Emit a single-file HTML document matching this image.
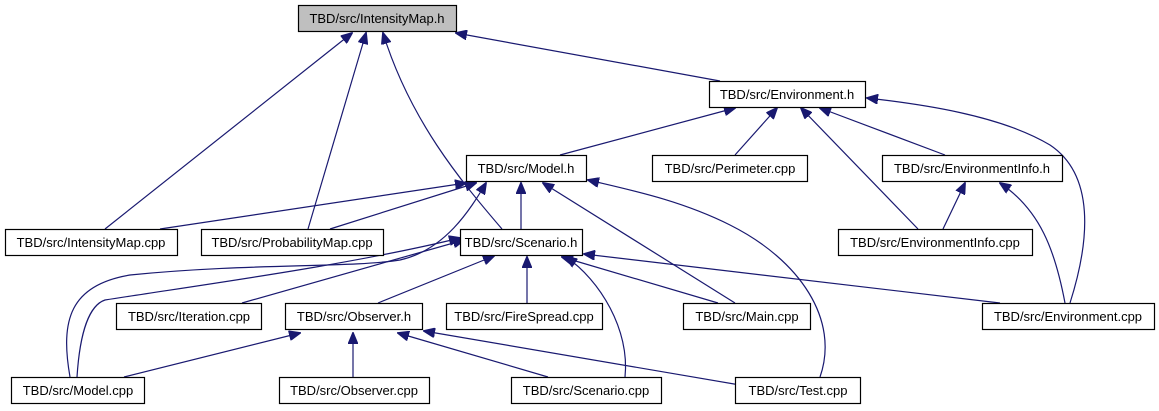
<!DOCTYPE html>
<html><head><meta charset="utf-8"><style>
html,body{margin:0;padding:0;background:#fff;}
svg{display:block;}
text{font-family:"Liberation Sans",Arial,sans-serif;font-size:13px;fill:#000;text-anchor:middle;}
.b{fill:#fff;stroke:#000;stroke-width:1.2;}
.e{fill:none;stroke:#191970;stroke-width:1.2;}
</style></head><body>
<svg width="1159" height="411" viewBox="0 0 1159 411" xmlns="http://www.w3.org/2000/svg">
<defs><marker id="a" markerWidth="12" markerHeight="10" refX="11" refY="5" orient="auto" markerUnits="userSpaceOnUse">
<path d="M0,0 L12,5 L0,10 Z" fill="#191970" stroke="#191970"/></marker></defs>
<g class="e" marker-end="url(#a)">
<path d="M105,229 L352,33"/>
<path d="M308,229 L366,33"/>
<path d="M502,229 C460,180 410,120 383,33"/>
<path d="M720,81 L456,33"/>
<path d="M560,155 L735,108"/>
<path d="M735,155 L777,108"/>
<path d="M918,229 L801,108"/>
<path d="M945,155 L820,108"/>
<path d="M1070,303 C1090,240 1095,175 1050,145 C1000,115 920,104 867,98"/>
<path d="M943,229 L965,183"/>
<path d="M1065,303 C1055,250 1040,210 1000,183"/>
<path d="M160,229 L466,183"/>
<path d="M330,229 L476,183"/>
<path d="M70,377 C60,320 70,285 130,275 C250,263 350,268 400,260 C445,250 470,210 486,183"/>
<path d="M521,229 L521,183"/>
<path d="M735,303 L543,183"/>
<path d="M820,377 C840,320 800,260 730,225 C680,200 630,190 588,180"/>
<path d="M77,377 C80,330 90,305 105,300 C200,285 350,265 460,238"/>
<path d="M242,303 L464,240"/>
<path d="M378,303 L494,256"/>
<path d="M527,303 L527,257"/>
<path d="M718,303 L562,257"/>
<path d="M625,377 C630,330 600,280 566,257"/>
<path d="M1000,303 L584,254"/>
<path d="M124,377 L300,333"/>
<path d="M353,377 L353,333"/>
<path d="M548,377 L398,333"/>
<path d="M740,385 L424,331"/>
</g>
<rect x="298.5" y="5.5" width="158" height="26" fill="#bfbfbf" stroke="#000" stroke-width="1.2"/><text x="377" y="23">TBD/src/IntensityMap.h</text>
<rect class="b" x="709.5" y="81.5" width="156" height="26"/><text x="787" y="99">TBD/src/Environment.h</text>
<rect class="b" x="466.5" y="155.5" width="120" height="26"/><text x="526" y="173">TBD/src/Model.h</text>
<rect class="b" x="652.5" y="155.5" width="155" height="26"/><text x="730" y="173">TBD/src/Perimeter.cpp</text>
<rect class="b" x="882.5" y="155.5" width="180" height="26"/><text x="972" y="173">TBD/src/EnvironmentInfo.h</text>
<rect class="b" x="5.5" y="229.5" width="172" height="26"/><text x="91" y="247">TBD/src/IntensityMap.cpp</text>
<rect class="b" x="201.5" y="229.5" width="182" height="26"/><text x="292" y="247">TBD/src/ProbabilityMap.cpp</text>
<rect class="b" x="460.5" y="229.5" width="122" height="26"/><text x="521" y="247">TBD/src/Scenario.h</text>
<rect class="b" x="838.5" y="229.5" width="194" height="26"/><text x="935" y="247">TBD/src/EnvironmentInfo.cpp</text>
<rect class="b" x="116.5" y="303.5" width="145" height="26"/><text x="189" y="321">TBD/src/Iteration.cpp</text>
<rect class="b" x="285.5" y="303.5" width="137" height="26"/><text x="354" y="321">TBD/src/Observer.h</text>
<rect class="b" x="446.5" y="303.5" width="156" height="26"/><text x="524" y="321">TBD/src/FireSpread.cpp</text>
<rect class="b" x="683.5" y="303.5" width="127" height="26"/><text x="747" y="321">TBD/src/Main.cpp</text>
<rect class="b" x="982.5" y="303.5" width="172" height="26"/><text x="1068" y="321">TBD/src/Environment.cpp</text>
<rect class="b" x="11.5" y="377.5" width="133" height="26"/><text x="78" y="395">TBD/src/Model.cpp</text>
<rect class="b" x="279.5" y="377.5" width="150" height="26"/><text x="354" y="395">TBD/src/Observer.cpp</text>
<rect class="b" x="511.5" y="377.5" width="150" height="26"/><text x="586" y="395">TBD/src/Scenario.cpp</text>
<rect class="b" x="735.5" y="377.5" width="125" height="26"/><text x="798" y="395">TBD/src/Test.cpp</text>
</svg>
</body></html>
